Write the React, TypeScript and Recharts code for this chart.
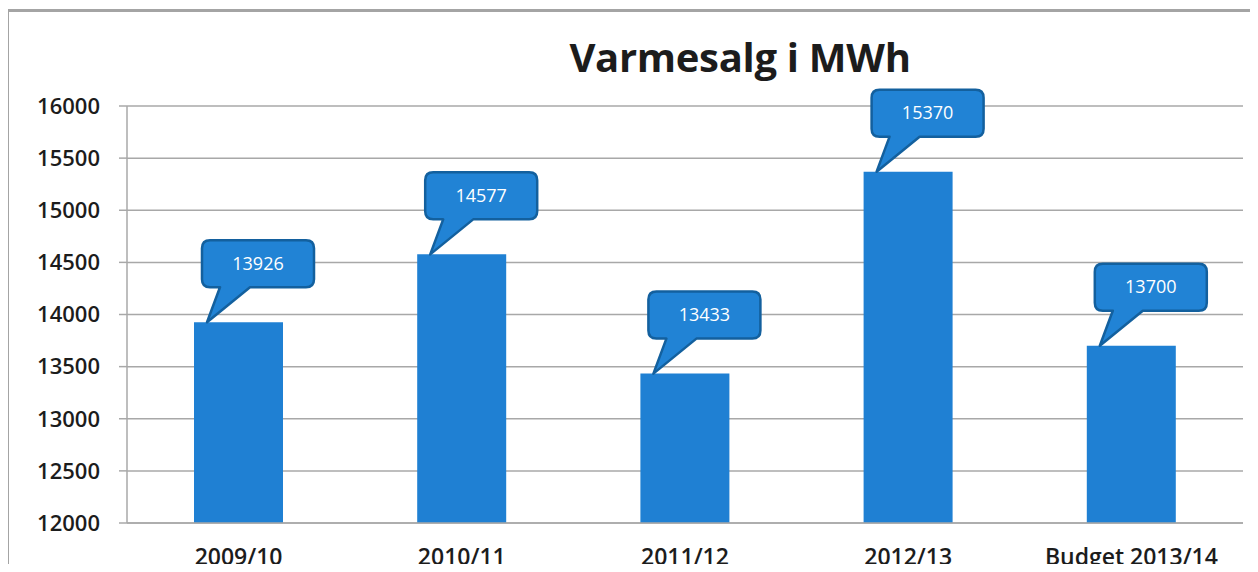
import { BarChart, Bar, XAxis, YAxis, CartesianGrid, LabelList } from 'recharts';

const seasons = ['2009/10', '2010/11', '2011/12', '2012/13', 'Budget 2013/14'];
const heatSales = [13926, 14577, 13433, 15370, 13700];
const yTicks = [12000, 12500, 13000, 13500, 14000, 14500, 15000, 15500, 16000];

const rows = seasons.map((season, i) => ({ season, mwh: heatSales[i] }));

const BAR_BLUE = '#1f80d3';
const FONT = '"Open Sans", "DejaVu Sans", sans-serif';

/** Excel-style callout bubble, sitting above-right of the bar top with a tail pointing down */
function Callout(props: any) {
  const { x, y, value } = props;
  const bx = x + 8;
  const by = y - 82;
  const w = 112;
  const h = 47;
  const r = 8;
  const tipX = x + 13;
  const tipY = y;
  const t1 = bx + 18;
  const t2 = bx + 48;
  const d = [
    `M ${bx + r} ${by}`,
    `H ${bx + w - r}`,
    `Q ${bx + w} ${by} ${bx + w} ${by + r}`,
    `V ${by + h - r}`,
    `Q ${bx + w} ${by + h} ${bx + w - r} ${by + h}`,
    `H ${t2}`,
    `L ${tipX} ${tipY}`,
    `L ${t1} ${by + h}`,
    `H ${bx + r}`,
    `Q ${bx} ${by + h} ${bx} ${by + h - r}`,
    `V ${by + r}`,
    `Q ${bx} ${by} ${bx + r} ${by}`,
    'Z',
  ].join(' ');
  return (
    <g>
      <path d={d} fill="#2183d5" stroke="#13609e" strokeWidth={2.5} strokeLinejoin="round" />
      <text
        x={bx + w / 2}
        y={by + h / 2 + 1}
        textAnchor="middle"
        dominantBaseline="middle"
        fill="#ffffff"
        fontSize={18}
        fontFamily={FONT}
      >
        {value}
      </text>
    </g>
  );
}

export default function App() {
  return (
    <div style={{ position: 'relative', margin: -8, width: 1258, height: 572, overflow: 'hidden', background: '#fff' }}>
      <div
        style={{
          position: 'absolute',
          left: 6,
          top: 9,
          width: 1300,
          height: 620,
          border: '3px solid #a4a4a4',
          boxSizing: 'border-box',
        }}
      />
      <div
        style={{
          position: 'absolute',
          left: 0,
          top: 32,
          width: 1480,
          textAlign: 'center',
          fontFamily: FONT,
          fontWeight: 700,
          fontSize: 40,
          color: '#1c1c1c',
          lineHeight: '50px',
          letterSpacing: -0.3,
        }}
      >
        Varmesalg i MWh
      </div>
      <div style={{ position: 'absolute', left: 0, top: 0 }}>
        <BarChart
          width={1258}
          height={572}
          data={rows}
          margin={{ top: 106, right: 15, bottom: 0, left: 0 }}
          barSize={89}
        >
          <CartesianGrid vertical={false} stroke="#a8a8a8" strokeWidth={1.5} />
          <XAxis
            dataKey="season"
            height={49}
            tickLine={false}
            tickSize={0}
            tickMargin={26}
            axisLine={{ stroke: '#a8a8a8', strokeWidth: 1.5 }}
            tick={{ fill: '#1c1c1c', fontSize: 23, fontWeight: 600, fontFamily: FONT }}
            interval={0}
          />
          <YAxis
            width={127}
            domain={[12000, 16000]}
            ticks={yTicks}
            interval={0}
            tickSize={8}
            tickMargin={19}
            tickLine={{ stroke: '#a8a8a8', strokeWidth: 1.5 }}
            axisLine={{ stroke: '#a8a8a8', strokeWidth: 1.5 }}
            tick={{ fill: '#1c1c1c', fontSize: 22, fontWeight: 600, fontFamily: FONT }}
          />
          <Bar dataKey="mwh" fill={BAR_BLUE} isAnimationActive={false}>
            <LabelList dataKey="mwh" content={Callout} />
          </Bar>
        </BarChart>
      </div>
    </div>
  );
}
